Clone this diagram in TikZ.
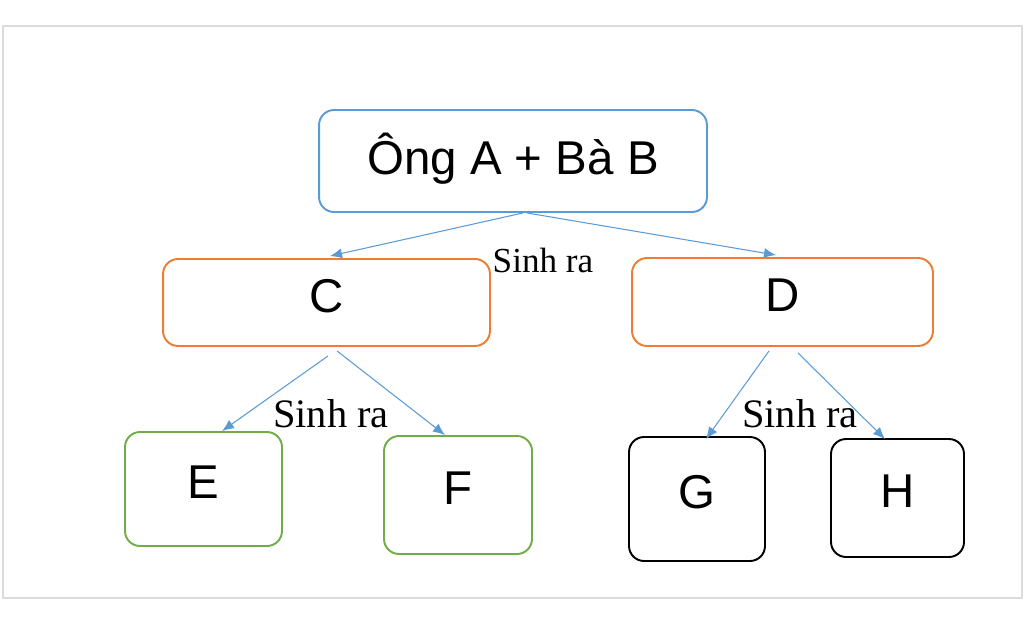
\documentclass[tikz,border=0pt]{standalone}
\usepackage{fontspec}
\setmainfont{Liberation Serif}
\newfontfamily\boxfont{Liberation Sans}
\usetikzlibrary{arrows.meta}
\definecolor{accentblue}{RGB}{91,155,213}
\definecolor{accentorange}{RGB}{237,125,49}
\definecolor{accentgreen}{RGB}{112,173,71}
\tikzset{
  famnode/.style={draw=#1, line width=1.1pt, rounded corners=0.3cm,
    text depth=0.28cm, inner sep=0pt,
    font=\boxfont\fontsize{27}{32}\selectfont},
  birthline/.style={draw=accentblue, line width=0.6pt,
    -{Latex[length=0.24cm,width=0.2cm]}},
  birthlabel/.style={anchor=base, inner sep=0pt}
}
\begin{document}
\begin{tikzpicture}[x=0.02cm, y=-0.02cm]
            \useasboundingbox (0,0) rectangle (1024,626);
            \draw[black!14, line width=0.8pt] (3,26) rectangle (1022,598);
            % the couple and their children
            \node[famnode=accentblue, minimum width=7.76cm, minimum height=2.04cm] (top) at (513,161) {Ông A + Bà B};
            \node[famnode=accentorange, minimum width=6.54cm, minimum height=1.74cm] (C) at (326.5,302.5) {C};
            \node[famnode=accentorange, minimum width=6.02cm, minimum height=1.76cm] (D) at (782.5,302) {D};
            % grandchildren
            \node[famnode=accentgreen, minimum width=3.14cm, minimum height=2.28cm] (E) at (203.5,489) {E};
            \node[famnode=accentgreen, minimum width=2.96cm, minimum height=2.36cm] (F) at (458,495) {F};
            \node[famnode=black, minimum width=2.72cm, minimum height=2.48cm] (G) at (697,499) {G};
            \node[famnode=black, minimum width=2.66cm, minimum height=2.36cm] (H) at (897.5,498) {H};
            \draw[birthline] ([xshift=0.2cm]top.south) -- ([xshift=0.07cm,yshift=0.04cm]C.north);
            \draw[birthline] ([xshift=0.28cm]top.south) -- ([xshift=-0.13cm,yshift=0.04cm]D.north);
            \draw[birthline] ([xshift=0.03cm,yshift=-0.18cm]C.south) -- ([xshift=0.37cm]E.north);
            \draw[birthline] ([xshift=0.21cm,yshift=-0.08cm]C.south) -- ([xshift=-0.26cm]F.north);
            \draw[birthline] ([xshift=-0.27cm,yshift=-0.08cm]D.south) -- ([xshift=0.18cm,yshift=-0.06cm]G.north);
            \draw[birthline] ([xshift=0.31cm,yshift=-0.12cm]D.south) -- ([xshift=-0.25cm,yshift=-0.02cm]H.north);
            \node[birthlabel, font=\fontsize{20}{24}\selectfont] (sinhTop) at (543,272) {Sinh ra};
            \node[birthlabel, font=\fontsize{23}{27}\selectfont] (sinhC) at (331,427) {Sinh ra};
            \node[birthlabel, font=\fontsize{23}{27}\selectfont] (sinhD) at (800,427) {Sinh ra};
\end{tikzpicture}
\end{document}
